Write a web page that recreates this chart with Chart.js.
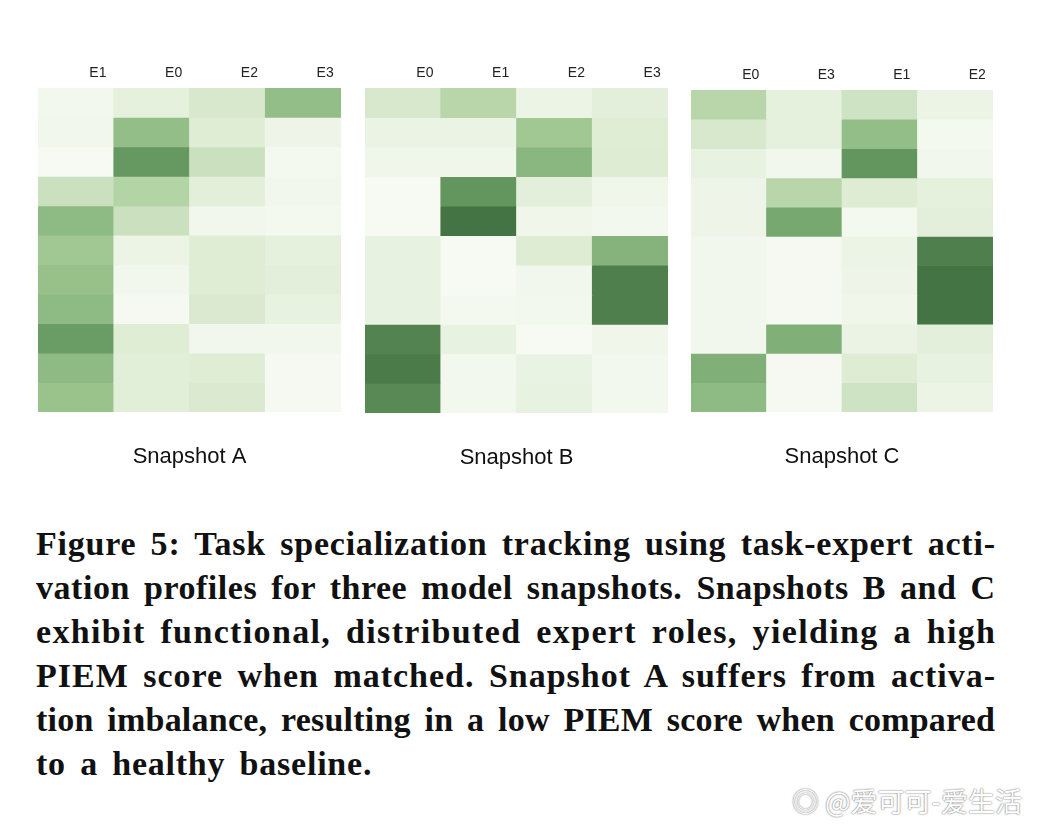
<!DOCTYPE html>
<html>
<head>
<meta charset="utf-8">
<script src="https://cdn.jsdelivr.net/npm/chart.js@4.4.1/dist/chart.umd.min.js"></script>
<style>
  html, body { margin: 0; padding: 0; background: #fff; }
  body { width: 1038px; height: 826px; position: relative; overflow: hidden; }
  .panel { position: absolute; }
  #caption {
    position: absolute; left: 36px; top: 522px; width: 959px;
    font-family: "Liberation Serif", "DejaVu Serif", serif; font-weight: bold;
    font-size: 34px; line-height: 44px; color: #111;
  }
  #caption div { white-space: nowrap; }
  #mark {
    position: absolute; left: 792px; top: 781px;
    font-family: "Noto Sans CJK SC", sans-serif; font-size: 27px; color: #fff;
    text-shadow: 0 0 2px #777, 0 0 1px #999;
  }
</style>
</head>
<body>
<div class="panel" id="pA"><canvas id="cA"></canvas></div>
<div class="panel" id="pB"><canvas id="cB"></canvas></div>
<div class="panel" id="pC"><canvas id="cC"></canvas></div>
<div id="caption"></div>
<div id="mark">◎ @爱可可-爱生活</div>
<script>
// --- Data: expert order per snapshot and activation intensity (rows = tasks, 0..1) ---
const expertsA = ['E1', 'E0', 'E2', 'E3'];
const expertsB = ['E0', 'E1', 'E2', 'E3'];
const expertsC = ['E0', 'E3', 'E1', 'E2'];

const activA = [
  [0.05, 0.18, 0.28, 0.58],
  [0.07, 0.58, 0.24, 0.10],
  [0.02, 0.78, 0.34, 0.04],
  [0.34, 0.44, 0.20, 0.07],
  [0.60, 0.34, 0.06, 0.04],
  [0.52, 0.12, 0.24, 0.18],
  [0.56, 0.06, 0.24, 0.20],
  [0.60, 0.03, 0.27, 0.15],
  [0.76, 0.24, 0.06, 0.06],
  [0.60, 0.22, 0.24, 0.03],
  [0.55, 0.22, 0.27, 0.03]
];
const activB = [
  [0.28, 0.42, 0.12, 0.20],
  [0.13, 0.13, 0.52, 0.24],
  [0.08, 0.08, 0.62, 0.25],
  [0.02, 0.80, 0.20, 0.08],
  [0.02, 0.98, 0.08, 0.05],
  [0.15, 0.02, 0.25, 0.64],
  [0.15, 0.02, 0.07, 0.92],
  [0.15, 0.04, 0.05, 0.92],
  [0.90, 0.15, 0.02, 0.08],
  [0.94, 0.05, 0.14, 0.05],
  [0.86, 0.05, 0.15, 0.05]
];
const activC = [
  [0.42, 0.18, 0.32, 0.12],
  [0.28, 0.18, 0.58, 0.04],
  [0.15, 0.07, 0.80, 0.07],
  [0.10, 0.42, 0.25, 0.18],
  [0.10, 0.70, 0.04, 0.20],
  [0.07, 0.03, 0.12, 0.92],
  [0.06, 0.03, 0.10, 0.98],
  [0.06, 0.03, 0.08, 0.98],
  [0.06, 0.66, 0.13, 0.20],
  [0.66, 0.03, 0.25, 0.15],
  [0.60, 0.03, 0.32, 0.12]
];
const snapshotTitles = ['Snapshot A', 'Snapshot B', 'Snapshot C'];

const captionLines = [
  'Figure 5: Task specialization tracking using task-expert acti-',
  'vation profiles for three model snapshots. Snapshots B and C',
  'exhibit functional, distributed expert roles, yielding a high',
  'PIEM score when matched. Snapshot A suffers from activa-',
  'tion imbalance, resulting in a low PIEM score when compared',
  'to a healthy baseline.'
];

// --- Layout (pixels) ---
const AXIS_H = 30;
const panels = [
  { id: 'A', left: 38, gridTop: 88, width: 303, gridH: 324, experts: expertsA, activ: activA },
  { id: 'B', left: 365, gridTop: 88, width: 303, gridH: 325, experts: expertsB, activ: activB },
  { id: 'C', left: 691, gridTop: 90, width: 302, gridH: 322, experts: expertsC, activ: activC }
];

// --- Colour scale: near-white to dark green ---
const stops = [
  [0.00, [248, 251, 245]],
  [0.25, [222, 236, 212]],
  [0.50, [166, 204, 150]],
  [0.75, [107, 159, 102]],
  [1.00, [66, 112, 65]]
];
function greenScale(v) {
  v = Math.max(0, Math.min(1, v));
  for (let i = 1; i < stops.length; i++) {
    if (v <= stops[i][0]) {
      const [a0, c0] = stops[i - 1];
      const [a1, c1] = stops[i];
      const t = (v - a0) / (a1 - a0);
      const c = c0.map((x, k) => Math.round(x + (c1[k] - x) * t));
      return `rgb(${c[0]}, ${c[1]}, ${c[2]})`;
    }
  }
  return 'rgb(66, 112, 65)';
}

// --- Build one heatmap as a stacked bar chart (one dataset per row) ---
function drawHeatmap(p, title) {
  const box = document.getElementById('p' + p.id);
  const titleBlock = 32 + 22 * 1.2;
  box.style.left = p.left + 'px';
  box.style.top = (p.gridTop - AXIS_H) + 'px';
  box.style.width = p.width + 'px';
  box.style.height = (AXIS_H + p.gridH + titleBlock) + 'px';

  const datasets = p.activ.map((row, r) => ({
    label: 'Task ' + (r + 1),
    data: row.map(() => 1),
    backgroundColor: row.map(v => greenScale(v)),
    borderWidth: 0,
    barPercentage: 1,
    categoryPercentage: 1
  }));

  new Chart(document.getElementById('c' + p.id), {
    type: 'bar',
    data: { labels: p.experts, datasets: datasets },
    options: {
      responsive: true,
      maintainAspectRatio: false,
      animation: false,
      layout: { padding: 0 },
      scales: {
        x: {
          position: 'top',
          stacked: true,
          grid: { display: false, drawTicks: false },
          border: { display: false },
          afterFit: s => { s.height = AXIS_H; },
          ticks: { labelOffset: 22, padding: 6, color: '#222', font: { family: 'Liberation Sans, Arial, sans-serif', size: 14 } }
        },
        y: { stacked: true, reverse: true, min: 0, max: p.activ.length, display: false }
      },
      plugins: {
        legend: { display: false },
        tooltip: { enabled: false },
        title: {
          display: true, position: 'bottom', text: title,
          padding: { top: 32, bottom: 0 },
          color: '#111',
          font: { family: 'Liberation Sans, Arial, sans-serif', size: 22, weight: 'normal' }
        }
      }
    }
  });
}

panels.forEach((p, i) => drawHeatmap(p, snapshotTitles[i]));

// --- Caption: justified line by line (spread through letter and word spacing) ---
const cap = document.getElementById('caption');
const lineEls = [];
let spacingSum = 0;
const extraWord = 5;
captionLines.forEach((txt, i) => {
  const d = document.createElement('div');
  const span = document.createElement('span');
  span.textContent = txt;
  d.appendChild(span);
  cap.appendChild(d);
  lineEls.push(d);
  if (i < captionLines.length - 1) {
    const natural = span.getBoundingClientRect().width;
    const gaps = txt.split(' ').length - 1;
    const ls = (959 - natural - gaps * extraWord) / (txt.length - 1);
    d.style.letterSpacing = ls + 'px';
    d.style.wordSpacing = extraWord + 'px';
    spacingSum += ls;
  }
});
const last = lineEls[lineEls.length - 1];
last.style.letterSpacing = (spacingSum / (captionLines.length - 1)) + 'px';
last.style.wordSpacing = extraWord + 'px';
</script>
</body>
</html>
